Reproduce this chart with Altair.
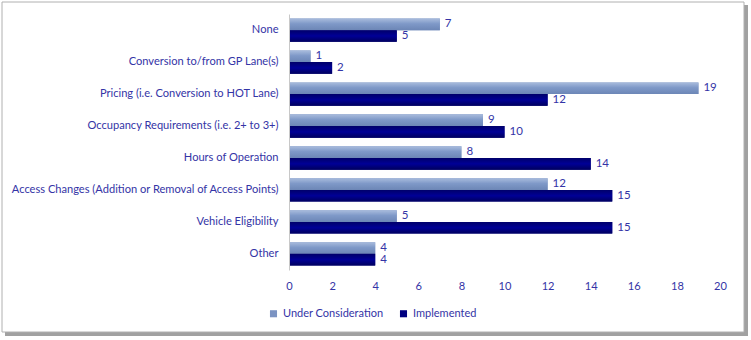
import altair as alt
import pandas as pd

categories = [
    "None",
    "Conversion to/from GP Lane(s)",
    "Pricing (i.e. Conversion to HOT Lane)",
    "Occupancy Requirements (i.e. 2+ to 3+)",
    "Hours of Operation",
    "Access Changes (Addition or Removal of Access Points)",
    "Vehicle Eligibility",
    "Other",
]
series = ["Under Consideration", "Implemented"]
under_consideration = [7, 1, 19, 9, 8, 12, 5, 4]
implemented = [5, 2, 12, 10, 14, 15, 15, 4]
x_ticks = list(range(0, 21, 2))

rows = []
for c, u, i in zip(categories, under_consideration, implemented):
    rows.append({"category": c, "series": series[0], "value": u})
    rows.append({"category": c, "series": series[1], "value": i})
df = pd.DataFrame(rows)

TXT = "#3434A6"
FONT = "Lato"
FS = 11.1

y_enc = alt.Y("category:N", sort=categories, title=None,
              scale=alt.Scale(paddingInner=0.27, paddingOuter=0.14),
              axis=alt.Axis(labelFont=FONT, labelFontSize=FS, labelColor=TXT,
                            ticks=False, labelPadding=11, domainColor="#c8c8c8",
                            labelLimit=400, zindex=2))
yoff_enc = alt.YOffset("series:N", sort=series, scale=alt.Scale(domain=series))
x_enc = alt.X("value:Q", title=None,
              scale=alt.Scale(domain=[0, 20]),
              axis=alt.Axis(values=x_ticks, grid=False, domain=False, ticks=False,
                            labelFont=FONT, labelFontSize=FS, labelColor=TXT,
                            labelPadding=10, labelFlush=False, zindex=2))

frame_df = pd.DataFrame({"k": [0]})
shadow = alt.Chart(frame_df).mark_rect(fill="#8a8a8a", opacity=0.8).encode(
    x=alt.value(-284), x2=alt.value(459), y=alt.value(-9), y2=alt.value(322))
frame = alt.Chart(frame_df).mark_rect(fill="white", stroke="#b0b0b0", strokeWidth=1).encode(
    x=alt.value(-287), x2=alt.value(455), y=alt.value(-12), y2=alt.value(318))

bars = alt.Chart(df).mark_bar().encode(
    y=y_enc, yOffset=yoff_enc, x=x_enc,
    color=alt.Color("series:N", sort=series,
                    scale=alt.Scale(domain=series, range=["#7B93C2", "#000080"]),
                    legend=alt.Legend(title=None, orient="none", direction="horizontal",
                                      legendX=-21, legendY=294,
                                      symbolType="square", symbolSize=50,
                                      labelFont=FONT, labelFontSize=11,
                                      labelColor=TXT, columnPadding=14,
                                      symbolOffset=0, zindex=2)))

grad_light = alt.Gradient(gradient="linear", x1=0, y1=0, x2=0, y2=1, stops=[
    alt.GradientStop(color="#a9bcdd", offset=0),
    alt.GradientStop(color="#7f99c8", offset=0.45),
    alt.GradientStop(color="#6c86b6", offset=1)])
grad_dark = alt.Gradient(gradient="linear", x1=0, y1=0, x2=0, y2=1, stops=[
    alt.GradientStop(color="#00006a", offset=0),
    alt.GradientStop(color="#000096", offset=0.5),
    alt.GradientStop(color="#00005e", offset=1)])

over_light = alt.Chart(df).transform_filter(alt.datum.series == series[0]).mark_bar(
    fill=grad_light).encode(y=y_enc, yOffset=yoff_enc, x=x_enc)
over_dark = alt.Chart(df).transform_filter(alt.datum.series == series[1]).mark_bar(
    fill=grad_dark).encode(y=y_enc, yOffset=yoff_enc, x=x_enc)

labels = alt.Chart(df).mark_text(align="left", baseline="middle", dx=5,
                                 font=FONT, fontSize=11.5, color=TXT).encode(
    y=y_enc, yOffset=yoff_enc, x=x_enc, text="value:Q")

chart = alt.layer(shadow, frame, bars, over_light, over_dark, labels).properties(
    width=431, height=256,
    padding={"left": 289, "top": 14, "right": 31, "bottom": 70},
    autosize=alt.AutoSizeParams(type="none"),
).configure_view(stroke=None).configure(background="white")

chart.save("out.html", embed_options={"renderer": "svg", "actions": False})
